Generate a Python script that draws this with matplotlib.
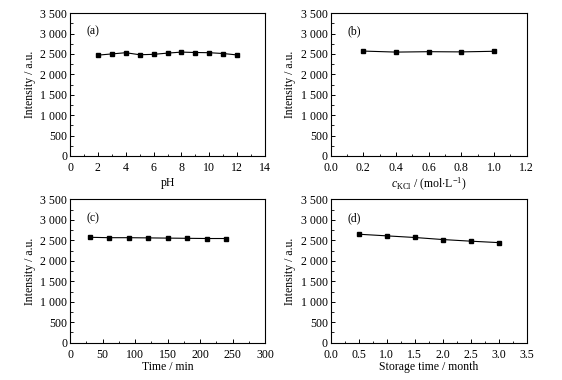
import matplotlib
matplotlib.use('Agg')
import matplotlib.pyplot as plt
from matplotlib.ticker import FuncFormatter, AutoMinorLocator

plt.rcParams['font.family'] = ['Liberation Serif', 'DejaVu Serif']
plt.rcParams['mathtext.fontset'] = 'custom'
plt.rcParams['mathtext.rm'] = 'Liberation Serif'
plt.rcParams['mathtext.it'] = 'Liberation Serif:italic'
plt.rcParams['font.size'] = 9

# data
ph = [2, 3, 4, 5, 6, 7, 8, 9, 10, 11, 12]
ph_int = [2470, 2500, 2530, 2480, 2490, 2520, 2545, 2535, 2530, 2510, 2475]

kcl = [0.2, 0.4, 0.6, 0.8, 1.0]
kcl_int = [2570, 2545, 2555, 2550, 2565]

time_min = [30, 60, 90, 120, 150, 180, 210, 240]
time_int = [2575, 2565, 2565, 2560, 2555, 2550, 2545, 2545]

storage = [0.5, 1.0, 1.5, 2.0, 2.5, 3.0]
storage_int = [2650, 2610, 2570, 2520, 2480, 2445]

def thousands(v, pos):
    v = int(round(v))
    if v >= 1000:
        return '%d %03d' % (v // 1000, v % 1000)
    return '%d' % v

fig = plt.figure(figsize=(5.62, 3.80), dpi=100)

panels = [
    # rect, x, y, xlim, xticks, xlabel, fmt, tag, xlabel offset
    ([0.1246, 0.5895, 0.347, 0.376], ph, ph_int, (0, 14), range(0, 15, 2), 'pH', '%d', '(a)', -0.19),
    ([0.5884, 0.5895, 0.3488, 0.376], kcl, kcl_int, (0, 1.2), [0, .2, .4, .6, .8, 1.0, 1.2],
     r'$\mathit{c}_{\rm KCl}$ / (mol$\cdot$L$^{-1}$)', '%.1f', '(b)', -0.2),
    ([0.1246, 0.0982, 0.347, 0.377], time_min, time_int, (0, 300), range(0, 301, 50), 'Time / min', '%d', '(c)', -0.17),
    ([0.5884, 0.0982, 0.3488, 0.377], storage, storage_int, (0, 3.5), [0, .5, 1, 1.5, 2, 2.5, 3, 3.5],
     'Storage time / month', '%.1f', '(d)', -0.17),
]

for rect, x, y, xlim, xt, xlab, fmt, tag, xoff in panels:
    ax = fig.add_axes(rect)
    ax.plot(x, y, color='black', lw=0.8, marker='s', markersize=3.3)
    ax.set_xlim(*xlim)
    ax.set_ylim(0, 3500)
    ax.set_xticks(list(xt))
    ax.set_xticklabels([fmt % v for v in xt])
    ax.set_yticks(range(0, 3501, 500))
    ax.yaxis.set_major_formatter(FuncFormatter(thousands))
    ax.xaxis.set_minor_locator(AutoMinorLocator(2))
    ax.yaxis.set_minor_locator(AutoMinorLocator(2))
    ax.tick_params(which='both', direction='in', top=False, right=False, labelsize=8.6)
    ax.tick_params(axis='x', pad=4.5)
    ax.tick_params(axis='y', pad=2.0)
    ax.tick_params(which='major', length=3, width=0.7)
    ax.tick_params(which='minor', length=1.8, width=0.6)
    for s in ax.spines.values():
        s.set_linewidth(0.8)
    ax.set_xlabel(xlab, fontsize=8.5, va='center')
    ax.xaxis.set_label_coords(0.5, xoff)
    ax.set_ylabel('Intensity / a.u.', fontsize=8.5, va='center')
    ax.yaxis.set_label_coords(-0.205, 0.5)
    ax.text(0.085, 0.87, tag, transform=ax.transAxes, fontsize=8.5, va='center')

fig.savefig('out.png', dpi=100)
